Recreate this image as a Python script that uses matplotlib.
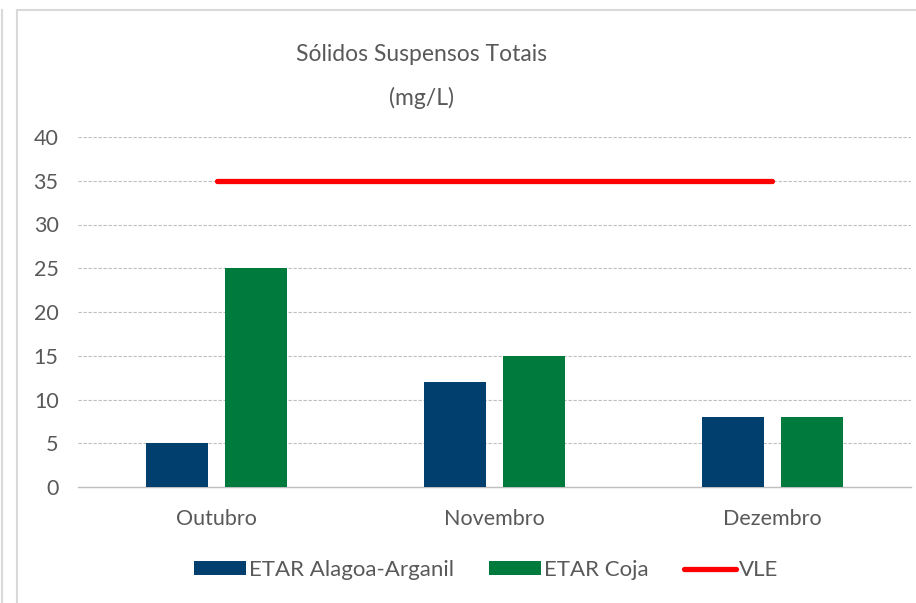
import matplotlib
matplotlib.use("Agg")
import matplotlib.pyplot as plt
import numpy as np
from matplotlib.lines import Line2D
from matplotlib.patches import Patch, Rectangle

months = ["Outubro", "Novembro", "Dezembro"]
alagoa_arganil = [5, 12, 8]
coja = [25, 15, 8]
vle = [35, 35, 35]
y_ticks = [0, 5, 10, 15, 20, 25, 30, 35, 40]

BLUE = "#003F6E"
GREEN = "#007A3D"
RED = "#FF0000"
TEXT = "#595959"
GRID = "#BFBFBF"

plt.rcParams["font.family"] = ["Lato", "DejaVu Sans"]

W, H = 916, 603
fig = plt.figure(figsize=(W / 100, H / 100), dpi=100)


def px(x0, y0, x1, y1):
    # pixel box (top-left origin) -> figure fraction rect
    return [x0 / W, 1 - y1 / H, (x1 - x0) / W, (y1 - y0) / H]


# chart frame and the stray line at the far left
fig.patches.append(Rectangle((17 / W, -0.05), 1.0, 1 - 10 / H + 0.05, transform=fig.transFigure,
                             facecolor="white", edgecolor="#D9D9D9", lw=1.5, zorder=-5))
fig.add_artist(Line2D([2 / W, 2 / W], [0, 1 - 10 / H], transform=fig.transFigure, color="#D9D9D9", lw=1.5,
                      zorder=-5))

ax = fig.add_axes(px(78, 137, 911, 487))
ax.set_facecolor("none")
ax.set_zorder(2)

x = np.arange(len(months))
bw = 0.223
off = 0.142
ax.bar(x - off, alagoa_arganil, bw, color=BLUE, zorder=3)
ax.bar(x + off, coja, bw, color=GREEN, zorder=3)
ax.plot(x, vle, color=RED, lw=3.8, solid_capstyle="round", zorder=4)

ax.set_xlim(-0.5, 2.5)
ax.set_ylim(0, 40)
ax.set_yticks(y_ticks)
ax.set_xticks(x)
ax.set_xticklabels(months)
ax.tick_params(axis="both", length=0, labelsize=15.5, colors=TEXT)
ax.tick_params(axis="y", pad=14)
ax.tick_params(axis="x", pad=16)
ax.yaxis.grid(True, color=GRID, ls=(0, (3, 1.5)), lw=0.8, zorder=0)
for side in ["top", "right", "left"]:
    ax.spines[side].set_visible(False)
ax.spines["bottom"].set_color(GRID)
ax.spines["bottom"].set_linewidth(1.0)

fig.text(421 / W, 1 - 61 / H, "Sólidos Suspensos Totais", ha="center", va="baseline",
         fontsize=16.5, color=TEXT)
fig.text(421 / W, 1 - 105 / H, "(mg/L)", ha="center", va="baseline", fontsize=16.5, color=TEXT)

handles = [
    Patch(facecolor=BLUE, label="ETAR Alagoa-Arganil"),
    Patch(facecolor=GREEN, label="ETAR Coja"),
    Line2D([], [], color=RED, lw=3.8, solid_capstyle="round", label="VLE"),
]
fig.legend(handles=handles, loc="center", bbox_to_anchor=(486 / W, 1 - 570 / H), ncol=3, frameon=False,
           fontsize=16, labelcolor=TEXT, handlelength=2.35, handleheight=0.6, handletextpad=0.12,
           columnspacing=1.6, borderaxespad=0)

fig.savefig("out.png", dpi=100)
